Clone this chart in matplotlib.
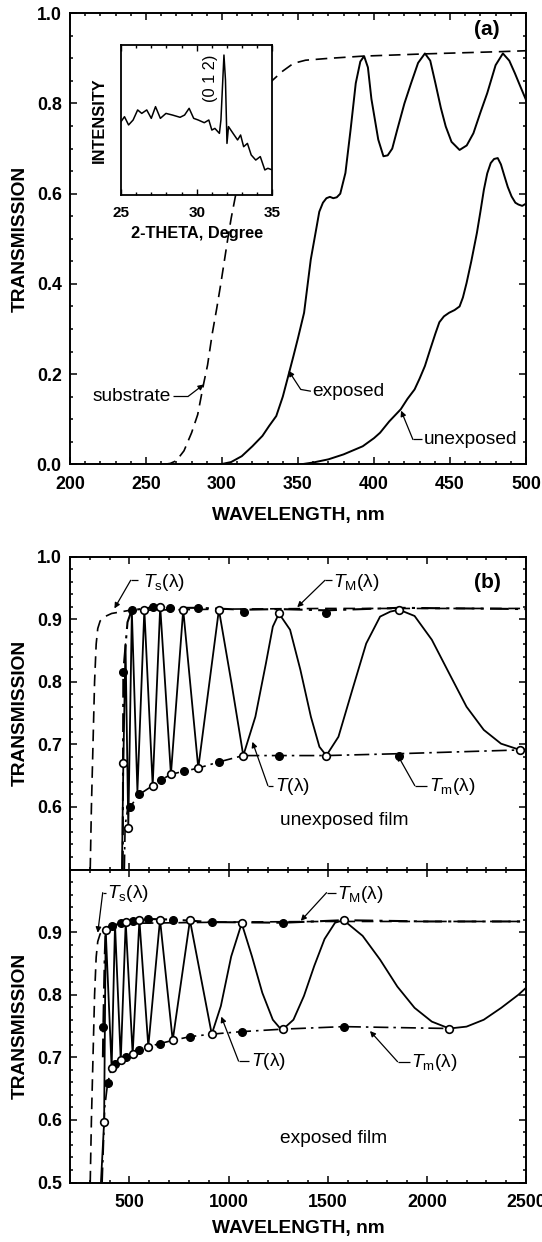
"""
Two-panel transmission figure: (a) substrate / exposed / unexposed film
with XRD inset, (b) envelope plots for unexposed and exposed films.
Output: out.png (542 x 1242 px)
"""

import matplotlib
matplotlib.use("Agg")
import matplotlib.pyplot as plt
from matplotlib.ticker import MultipleLocator, NullLocator

plt.rcParams['font.family'] = ['Liberation Sans', 'DejaVu Sans']
plt.rcParams['mathtext.fontset'] = 'custom'
plt.rcParams['mathtext.rm'] = 'Liberation Sans'
plt.rcParams['mathtext.it'] = 'Liberation Sans:italic'

# -- Panel (a) data ----------------------------------------------------------
sub_wl = [262, 266, 270, 275, 280, 284, 288, 290.5, 293.6, 296.5, 299.2, 301.5,
          303.8, 306, 308.4, 312, 316, 320, 325, 330, 333.4, 340, 347, 355,
          369.8, 392.6, 433.5, 483.6, 500]
sub_T = [0.0, 0.002, 0.008, 0.03, 0.07, 0.11, 0.18, 0.22, 0.29, 0.345, 0.40, 0.45,
         0.50, 0.545, 0.587, 0.65, 0.71, 0.76, 0.81, 0.84, 0.852, 0.872, 0.889, 0.896,
         0.90, 0.905, 0.91, 0.915, 0.917]

expo_wl = [299, 306, 313, 320, 326.6, 331, 335.7, 340, 343.6, 347, 350, 354,
           358.4, 361.9, 364, 366.4, 368.7, 371, 373.2, 375.5, 377.8, 381.2, 384.6,
           388, 391, 393.5, 396, 398.3, 402.8, 406.2, 409, 412, 415.3, 420, 424.4,
           429, 433.5, 437, 440.4, 444, 447.2, 451, 456.3, 461, 465.4, 470, 474.5,
           480, 484.8, 489, 492.7, 496, 500]
expo_T = [0.0, 0.005, 0.018, 0.04, 0.063, 0.085, 0.107, 0.15, 0.196, 0.24, 0.28, 0.336,
          0.454, 0.52, 0.56, 0.58, 0.59, 0.593, 0.59, 0.592, 0.60, 0.646, 0.742,
          0.845, 0.893, 0.905, 0.88, 0.81, 0.72, 0.683, 0.685, 0.70, 0.742, 0.80, 0.845,
          0.89, 0.911, 0.895, 0.845, 0.79, 0.749, 0.715, 0.697, 0.707, 0.734, 0.78, 0.823,
          0.885, 0.911, 0.895, 0.867, 0.84, 0.808]

unexpo_wl = [352, 360, 370, 380, 392.6, 400, 404, 410, 417.6, 422, 426.7, 430,
             433.5, 437, 440.4, 443, 446, 449.4, 453, 456.3, 458.5, 460.9, 464,
             467.7, 470, 472.3, 474.5, 476.8, 479, 481.4, 483.5, 485.9, 488, 490.5,
             493, 495, 497.5, 500]
unexpo_T = [0.0, 0.004, 0.011, 0.022, 0.04, 0.058, 0.07, 0.095, 0.122, 0.145, 0.166, 0.19,
            0.218, 0.255, 0.29, 0.315, 0.328, 0.336, 0.342, 0.35, 0.37, 0.402, 0.45,
            0.513, 0.56, 0.609, 0.645, 0.668, 0.677, 0.679, 0.665, 0.638, 0.615, 0.594,
            0.58, 0.576, 0.573, 0.578]

# XRD inset (2-theta, relative intensity)
xrd_theta = [25.0, 25.23, 25.5, 25.8, 26.1, 26.37, 26.7, 27.0, 27.28, 27.6, 27.97,
             28.4, 28.9, 29.2, 29.5, 29.8, 30.1, 30.5, 30.8, 31.0, 31.2, 31.5, 31.6,
             31.8, 31.9, 32.0, 32.1, 32.4, 32.7, 32.9, 33.1, 33.35, 33.6, 33.9, 34.2,
             34.5, 34.7, 35.0]
xrd_int = [0.489, 0.522, 0.467, 0.50, 0.567, 0.544, 0.567, 0.511, 0.589, 0.511, 0.544,
           0.533, 0.518, 0.533, 0.578, 0.511, 0.50, 0.482, 0.50, 0.433, 0.444, 0.411, 0.50,
           0.933, 0.767, 0.344, 0.456, 0.411, 0.367, 0.40, 0.322, 0.344, 0.267, 0.233, 0.256,
           0.167, 0.178, 0.167]

# -- Panel (b) data ----------------------------------------------------------
# substrate T_s (same in both sub-panels)
ts_wl = [302, 308, 316, 324, 332, 340, 352, 376, 410, 500, 1000, 1500, 2000, 2500]
ts_T = [0.50, 0.60, 0.70, 0.80, 0.86, 0.885, 0.897, 0.904, 0.909, 0.914, 0.916, 0.917,
        0.917, 0.917]

# unexposed film
un_wl = [462, 469, 480, 494, 512, 540, 575, 617, 655, 709, 771, 847, 951, 1015, 1074,
         1135, 1188, 1223, 1254, 1310, 1362, 1415, 1458, 1493, 1554, 1624, 1694, 1764,
         1816, 1860, 1938, 2025, 2113, 2200, 2287, 2374, 2470, 2500]
un_T = [0.50, 0.670, 0.86, 0.567, 0.912, 0.625, 0.915, 0.634, 0.920, 0.652, 0.915, 0.662,
        0.915, 0.797, 0.682, 0.744, 0.829, 0.888, 0.909, 0.883, 0.819, 0.744, 0.696, 0.682,
        0.712, 0.787, 0.861, 0.904, 0.912, 0.915, 0.905, 0.867, 0.813, 0.760, 0.723, 0.701,
        0.691, 0.692]
un_TM_wl = [466, 469, 490, 511, 575, 620, 706, 847, 1078, 1254, 1493, 1860, 2200, 2500]
un_TM = [0.50, 0.816, 0.895, 0.914, 0.917, 0.919, 0.918, 0.918, 0.915, 0.916, 0.914,
         0.918, 0.917, 0.916]
un_Tm_wl = [474, 478, 490, 503, 550, 617, 659, 709, 775, 847, 953, 1074, 1254, 1493,
            1860, 2470]
un_Tm = [0.50, 0.57, 0.595, 0.60, 0.620, 0.634, 0.643, 0.652, 0.657, 0.662, 0.672, 0.682,
         0.682, 0.682, 0.685, 0.691]
un_max_wl = [575, 655, 771, 951, 1254, 1860]
un_max_T = [0.915, 0.920, 0.915, 0.915, 0.909, 0.915]
un_min_wl = [469, 494, 617, 709, 847, 1074, 1493, 2470]
un_min_T = [0.670, 0.567, 0.634, 0.652, 0.662, 0.682, 0.682, 0.691]
un_fM_wl = [469, 511, 620, 706, 847, 1078, 1493]
un_fM_T = [0.816, 0.914, 0.919, 0.918, 0.918, 0.912, 0.909]
un_fm_wl = [503, 550, 659, 775, 953, 1254, 1860]
un_fm_T = [0.60, 0.620, 0.643, 0.657, 0.672, 0.682, 0.682]

# exposed film
ex_wl = [356, 372, 380, 410, 427, 456, 481, 516, 550, 595, 654, 718, 805, 915, 961,
         1013, 1066, 1118, 1170, 1223, 1258, 1275, 1327, 1380, 1432, 1484, 1537, 1580,
         1676, 1764, 1851, 1938, 2025, 2113, 2200, 2287, 2375, 2462, 2500]
ex_T = [0.50, 0.596, 0.903, 0.683, 0.912, 0.695, 0.916, 0.705, 0.919, 0.717, 0.920,
        0.727, 0.919, 0.737, 0.782, 0.861, 0.914, 0.861, 0.803, 0.760, 0.747, 0.745,
        0.760, 0.798, 0.846, 0.889, 0.915, 0.919, 0.894, 0.856, 0.813, 0.779, 0.757,
        0.746, 0.749, 0.760, 0.779, 0.800, 0.811]
ex_TM_wl = [366, 368, 375, 380, 410, 456, 516, 595, 718, 915, 1275, 1580, 2000, 2500]
ex_TM = [0.70, 0.749, 0.86, 0.903, 0.910, 0.914, 0.917, 0.921, 0.920, 0.916, 0.915,
         0.919, 0.917, 0.917]
ex_Tm_wl = [362, 375, 390, 410, 427, 456, 481, 516, 550, 595, 654, 718, 805, 915, 1066,
            1275, 1580, 2113]
ex_Tm = [0.50, 0.62, 0.659, 0.683, 0.690, 0.695, 0.700, 0.705, 0.712, 0.717, 0.722,
         0.727, 0.733, 0.737, 0.741, 0.745, 0.749, 0.746]
ex_max_wl = [380, 481, 550, 654, 805, 1066, 1580]
ex_max_T = [0.903, 0.916, 0.919, 0.920, 0.919, 0.914, 0.919]
ex_min_wl = [372, 410, 456, 516, 595, 718, 915, 1275, 2113]
ex_min_T = [0.596, 0.683, 0.695, 0.705, 0.717, 0.727, 0.737, 0.745, 0.746]
ex_fM_wl = [368, 410, 456, 516, 595, 718, 915, 1275]
ex_fM_T = [0.749, 0.910, 0.914, 0.917, 0.921, 0.920, 0.916, 0.915]
ex_fm_wl = [390, 427, 481, 550, 654, 805, 1066, 1580]
ex_fm_T = [0.659, 0.690, 0.700, 0.712, 0.722, 0.733, 0.741, 0.749]

# -- Styles ------------------------------------------------------------------
TICK_FS = 12.8
LABEL_FS = 13.8
NOTE_FS = 13.8
DASH = (0, (7, 4))
DASHDOT = (0, (9, 3, 1.5, 3))


def style_axes(ax):
    for s in ax.spines.values():
        s.set_linewidth(1.4)
    ax.tick_params(which='both', direction='in', top=True, right=True,
                   labelsize=TICK_FS, width=1.1)
    ax.tick_params(which='major', length=5)
    ax.tick_params(which='minor', length=2.5)
    ax.tick_params(axis='x', pad=8.5)
    ax.tick_params(axis='y', pad=6)
    for lab in ax.get_xticklabels() + ax.get_yticklabels():
        lab.set_fontweight('bold')


def leader(ax, text, text_xy, start, knee, tip, ha='left', fs=NOTE_FS):
    """Text with an elbow leader line ending in an arrowhead."""
    ax.plot([start[0], knee[0]], [start[1], knee[1]], color='k', lw=0.9,
            solid_capstyle='butt')
    ax.annotate('', xy=tip, xytext=knee,
                arrowprops=dict(arrowstyle='-|>', color='k', lw=0.9,
                                mutation_scale=8, shrinkA=0, shrinkB=0))
    ax.text(text_xy[0], text_xy[1], text, ha=ha, va='center', fontsize=fs)


fig = plt.figure(figsize=(5.42, 12.42), dpi=100)
W, H = 542.0, 1242.0

# ============================================================================
# Panel (a)
# ============================================================================
ax_a = fig.add_axes([70 / W, 1 - 464.3 / H, 456 / W, 451 / H])
ax_a.plot(sub_wl, sub_T, color='k', lw=1.2, linestyle=DASH)
ax_a.plot(expo_wl, expo_T, color='k', lw=1.4)
ax_a.plot(unexpo_wl, unexpo_T, color='k', lw=1.4)
ax_a.set_xlim(200, 500)
ax_a.set_ylim(0, 1.0)
ax_a.xaxis.set_major_locator(MultipleLocator(50))
ax_a.xaxis.set_minor_locator(MultipleLocator(10))
ax_a.yaxis.set_major_locator(MultipleLocator(0.2))
ax_a.yaxis.set_minor_locator(MultipleLocator(0.05))
ax_a.yaxis.set_major_formatter(plt.FuncFormatter(lambda v, p: f"{v:.1f}"))
style_axes(ax_a)
ax_a.set_ylabel("TRANSMISSION", fontsize=LABEL_FS, fontweight='bold')
ax_a.set_xlabel("WAVELENGTH, nm", fontsize=LABEL_FS, fontweight='bold')
ax_a.yaxis.set_label_coords(-0.09, 0.5)
ax_a.xaxis.set_label_coords(0.5, -0.095)

ax_a.text(474, 0.963, "(a)", ha='center', va='center', fontsize=15, fontweight='bold')
leader(ax_a, "substrate", (266.7, 0.150), (267.5, 0.151), (277.9, 0.151),
       (288, 0.177), ha='right')
leader(ax_a, "exposed", (359.7, 0.161), (358.5, 0.162), (351.8, 0.166),
       (343.8, 0.2075))
leader(ax_a, "unexposed", (432.8, 0.054), (431.8, 0.055), (425.6, 0.055),
       (417.8, 0.119))

# inset
ax_in = fig.add_axes([121 / W, 1 - 195 / H, 151.4 / W, 150 / H])
ax_in.set_facecolor('white')
ax_in.plot(xrd_theta, xrd_int, color='k', lw=1.1)
ax_in.set_xlim(25, 35)
ax_in.set_ylim(0, 1)
ax_in.xaxis.set_major_locator(MultipleLocator(5))
ax_in.xaxis.set_minor_locator(MultipleLocator(1))
ax_in.yaxis.set_major_locator(NullLocator())
for s in ax_in.spines.values():
    s.set_linewidth(1.3)
ax_in.tick_params(which='both', direction='in', top=True, labelsize=11, width=1,
                  pad=8)
ax_in.tick_params(which='major', length=4)
ax_in.tick_params(which='minor', length=2)
for lab in ax_in.get_xticklabels():
    lab.set_fontweight('bold')
ax_in.set_ylabel("INTENSITY", fontsize=11.8, fontweight='bold', labelpad=10)
ax_in.set_xlabel("2-THETA, Degree", fontsize=11.8, fontweight='bold', labelpad=4)
ax_in.text(30.94, 0.78, "(0 1 2)", rotation=90, ha='center', va='center', fontsize=11.8)

# ============================================================================
# Panel (b)
# ============================================================================
ax_u = fig.add_axes([70 / W, 1 - 869.5 / H, 456 / W, 313 / H])
ax_l = fig.add_axes([70 / W, 1 - 1182.5 / H, 456 / W, 313 / H])

panels = [
    (ax_u, un_wl, un_T, un_TM_wl, un_TM, un_Tm_wl, un_Tm, un_max_wl, un_max_T,
     un_min_wl, un_min_T, un_fM_wl, un_fM_T, un_fm_wl, un_fm_T),
    (ax_l, ex_wl, ex_T, ex_TM_wl, ex_TM, ex_Tm_wl, ex_Tm, ex_max_wl, ex_max_T,
     ex_min_wl, ex_min_T, ex_fM_wl, ex_fM_T, ex_fm_wl, ex_fm_T),
]

for (ax, wl, T, tmw, tm_up, tlw, tm_lo, mxw, mxT, mnw, mnT,
     fMw, fMT, fmw, fmT) in panels:
    ax.plot(ts_wl, ts_T, color='k', lw=1.2, linestyle=DASH)
    ax.plot(tmw, tm_up, color='k', lw=1.5, linestyle=DASHDOT)
    ax.plot(tlw, tm_lo, color='k', lw=1.2, linestyle=DASHDOT)
    ax.plot(wl, T, color='k', lw=1.3)
    ax.plot(fMw, fMT, 'o', color='k', ms=5.5, clip_on=False, zorder=4)
    ax.plot(fmw, fmT, 'o', color='k', ms=5.5, clip_on=False, zorder=4)
    ax.plot(mxw, mxT, 'o', mfc='white', mec='k', mew=1.2, ms=5.5, clip_on=False, zorder=5)
    ax.plot(mnw, mnT, 'o', mfc='white', mec='k', mew=1.2, ms=5.5, clip_on=False, zorder=5)
    ax.set_xlim(200, 2500)
    ax.set_ylim(0.5, 1.0)
    ax.xaxis.set_major_locator(MultipleLocator(500))
    ax.xaxis.set_minor_locator(MultipleLocator(100))
    ax.yaxis.set_minor_locator(MultipleLocator(0.02))
    ax.set_ylabel("TRANSMISSION", fontsize=LABEL_FS, fontweight='bold')
    ax.yaxis.set_label_coords(-0.09, 0.5)

ax_u.set_yticks([0.6, 0.7, 0.8, 0.9, 1.0])
ax_l.set_yticks([0.5, 0.6, 0.7, 0.8, 0.9])
for ax in (ax_u, ax_l):
    ax.yaxis.set_major_formatter(plt.FuncFormatter(lambda v, p: f"{v:.1f}"))
ax_u.tick_params(labelbottom=False)
style_axes(ax_u)
style_axes(ax_l)
ax_l.set_xlabel("WAVELENGTH, nm", fontsize=LABEL_FS, fontweight='bold')
ax_l.xaxis.set_label_coords(0.5, -0.12)

# annotations - unexposed
ax_u.text(2303, 0.958, "(b)", ha='center', va='center', fontsize=15, fontweight='bold')
leader(ax_u, r"$T_{\rm s}$(λ)", (568, 0.958), (545, 0.962), (506, 0.962), (424, 0.917))
leader(ax_u, r"$T_{\rm M}$(λ)", (1529, 0.958), (1520, 0.962), (1486, 0.962), (1346, 0.919))
leader(ax_u, r"$T$(λ)", (1233, 0.633), (1225, 0.634), (1198, 0.634), (1120, 0.704))
leader(ax_u, r"$T_{\rm m}$(λ)", (2009, 0.633), (2000, 0.634), (1939, 0.634), (1852, 0.683))
ax_u.text(1582, 0.579, "unexposed film", ha='center', va='center', fontsize=NOTE_FS)

# annotations - exposed
leader(ax_l, r"$T_{\rm s}$(λ)", (388, 0.962), (381, 0.963), (365, 0.963), (340, 0.899))
leader(ax_l, r"$T_{\rm M}$(λ)", (1547, 0.960), (1540, 0.963), (1494, 0.963), (1364, 0.918))
leader(ax_l, r"$T$(λ)", (1111, 0.693), (1105, 0.694), (1050, 0.694), (963, 0.765))
leader(ax_l, r"$T_{\rm m}$(λ)", (1921, 0.692), (1915, 0.693), (1852, 0.693), (1713, 0.742))
ax_l.text(1529, 0.571, "exposed film", ha='center', va='center', fontsize=NOTE_FS)

fig.savefig("out.png", dpi=100, facecolor='white')
